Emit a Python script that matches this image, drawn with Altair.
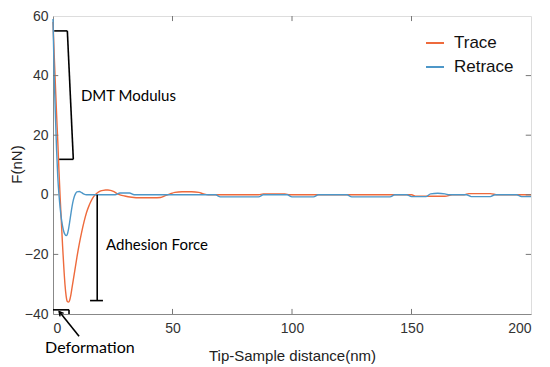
import altair as alt
import pandas as pd

# ---- data ----
trace_x = [0, 0.5, 1, 1.5, 2, 2.5, 3, 3.5, 4, 4.5, 5, 5.5, 6, 6.5, 7, 7.5, 8, 9, 10, 11, 12, 13, 14, 15,
           16, 17, 18, 19, 20, 21, 22, 23, 24, 25, 26, 27, 28, 30, 33, 36, 42, 45, 47, 49, 51, 54, 58, 61,
           63, 65, 86, 88, 92, 97, 99, 150, 152, 164, 167, 172, 174, 183, 186, 200]
trace_y = [58, 47, 37, 27, 18, 8, -1, -9, -17, -24, -30, -34, -35.8, -36, -35.3, -33.5, -31, -26, -21, -16.5,
           -12.5, -9, -6, -3.8, -2, -0.6, 0.3, 0.9, 1.3, 1.5, 1.6, 1.6, 1.5, 1.2, 0.8, 0.3, 0, -0.4, -0.8, -1,
           -1, -0.9, -0.3, 0.3, 0.8, 1, 1, 0.8, 0.3, 0, 0, 0.3, 0.3, 0.3, 0, 0, -0.5, -0.5, 0, 0, 0.4, 0.4, 0, 0]

retrace_x = [0, 0.5, 1, 1.5, 2, 2.5, 3, 3.5, 4, 4.5, 5, 5.5, 6, 6.5, 7, 7.5, 8, 8.5, 9, 9.5, 10, 11, 12, 13,
             14, 26, 28, 32, 34, 68, 70, 86, 88, 98, 100, 109, 111, 123, 125, 141, 143, 148, 150, 156, 158,
             161, 164, 166, 173, 175, 183, 185, 194, 196, 200]
retrace_y = [59, 40, 27, 15, 6, 0, -4.5, -8, -10.5, -12.3, -13.3, -13.7, -13.2, -11.5, -9, -6.3, -3.8, -1.8,
             -0.4, 0.5, 1, 1.1, 0.7, 0.2, 0, 0, 0.6, 0.6, 0, 0, -0.7, -0.7, 0, 0, -0.7, -0.7, 0, 0, -0.7, -0.7,
             0, 0, -0.6, -0.6, 0.3, 0.5, 0.3, 0, 0, -0.6, -0.6, 0, 0, -0.6, -0.6]

series_names = ["Trace", "Retrace"]
series_colors = ["#ee6a3c", "#4d97c8"]

x_ticks = [0, 50, 100, 150, 200]
y_ticks = [-40, -20, 0, 20, 40, 60]

# annotation segments (data coordinates)
seg_x = [0.5, 6.0, 8.5, 18.5, 15.5, 0, 6.7, 10.9]
seg_y = [55, 55, 11.9, 0, -35.5, -38.6, -38.6, -47.5]
seg_x2 = [6.0, 8.5, 2.6, 18.5, 20.9, 6.7, 6.7, 2.6]
seg_y2 = [55, 11.9, 11.9, -35.5, -35.5, -38.6, -40, -39.2]

ann_text = ["DMT Modulus", "Adhesion Force", "Deformation"]
ann_x = [11.7, 22.2, -3.3]
ann_y = [33.2, -16.8, -51.4]
ann_size = [15, 15, 16]

arrow_x = [2.6]
arrow_y = [-39.2]

# ---- build tables ----
curves = pd.concat([
    pd.DataFrame({"x": trace_x, "y": trace_y, "s": "Trace"}),
    pd.DataFrame({"x": retrace_x, "y": retrace_y, "s": "Retrace"}),
])
segs = pd.DataFrame({"x": seg_x, "y": seg_y, "x2": seg_x2, "y2": seg_y2})
texts = pd.DataFrame({"t": ann_text, "x": ann_x, "y": ann_y, "fs": ann_size})
arrow = pd.DataFrame({"x": arrow_x, "y": arrow_y})

xr, yr = 200.0, 100.0
tick_rows = []
for v in x_ticks[1:-1]:
    tick_rows.append({"x": v, "y": -40, "x2": v, "y2": -40 + 0.017 * yr})
    tick_rows.append({"x": v, "y": 60, "x2": v, "y2": 60 - 0.017 * yr})
for v in y_ticks[1:-1]:
    tick_rows.append({"x": 0, "y": v, "x2": 0.011 * xr, "y2": v})
    tick_rows.append({"x": 200, "y": v, "x2": 200 - 0.011 * xr, "y2": v})
ticks = pd.DataFrame(tick_rows)

W, H = 478, 298
xs = alt.Scale(domain=[0, 200], nice=False, zero=False)
ys = alt.Scale(domain=[-40, 60], nice=False, zero=False)

x_axis = alt.Axis(values=x_ticks, ticks=False, grid=False, labelFontSize=14, labelPadding=7,
                  labelColor="#333333", labelFont="Liberation Sans", domainColor="#888888",
                  title="Tip-Sample distance(nm)", titleFont="Liberation Sans", titleFontSize=15,
                  titleFontWeight="normal", titleColor="#222222", titleX=239, titleY=41,
                  titleBaseline="middle", titleAlign="center")
y_axis = alt.Axis(values=y_ticks, ticks=False, grid=False, labelFontSize=14, labelPadding=5,
                  labelColor="#333333", labelFont="Liberation Sans", domainColor="#888888",
                  title="F(nN)", titleFont="Liberation Sans", titleFontSize=15,
                  titleFontWeight="normal", titleColor="#222222", titleX=-37, titleY=148,
                  titleBaseline="middle", titleAlign="center", titleAngle=-90)

lines = alt.Chart(curves).mark_line(strokeWidth=1.4, interpolate="monotone").encode(
    x=alt.X("x:Q", scale=xs, axis=x_axis),
    y=alt.Y("y:Q", scale=ys, axis=y_axis),
    color=alt.Color("s:N", scale=alt.Scale(domain=series_names, range=series_colors),
                    legend=alt.Legend(title=None, orient="none", legendX=372, legendY=17,
                                      symbolType="stroke", symbolSize=324, symbolStrokeWidth=2,
                                      labelFontSize=17, labelFont="Liberation Sans",
                                      labelColor="#111111", labelOffset=9, rowPadding=6)),
    order=alt.Order("x:Q"),
)

tick_marks = alt.Chart(ticks).mark_rule(color="#777777", strokeWidth=1).encode(
    x=alt.X("x:Q", scale=xs), y=alt.Y("y:Q", scale=ys), x2="x2:Q", y2="y2:Q")

seg_marks = alt.Chart(segs).mark_rule(color="black", strokeWidth=1.6).encode(
    x=alt.X("x:Q", scale=xs), y=alt.Y("y:Q", scale=ys), x2="x2:Q", y2="y2:Q")

arrow_mark = alt.Chart(arrow).mark_point(shape="M-0.55,1L0,0L0.55,1", filled=False, color="black",
                                         strokeWidth=1.5, size=70, angle=321, opacity=1).encode(
    x=alt.X("x:Q", scale=xs), y=alt.Y("y:Q", scale=ys))

text_marks = alt.Chart(texts).mark_text(align="left", baseline="middle", font="Lato",
                                        color="black").encode(
    x=alt.X("x:Q", scale=xs), y=alt.Y("y:Q", scale=ys), text="t:N",
    size=alt.Size("fs:Q", scale=None, legend=None))

chart = alt.layer(lines, tick_marks, seg_marks, arrow_mark, text_marks).properties(
    width=W, height=H,
    autosize=alt.AutoSizeParams(type="none"),
    padding={"left": 45, "top": 8, "right": 11, "bottom": 52},
).configure_view(stroke="#888888", strokeWidth=1).configure(background="white")

chart.save("out.html", embed_options={"renderer": "svg", "actions": False})
